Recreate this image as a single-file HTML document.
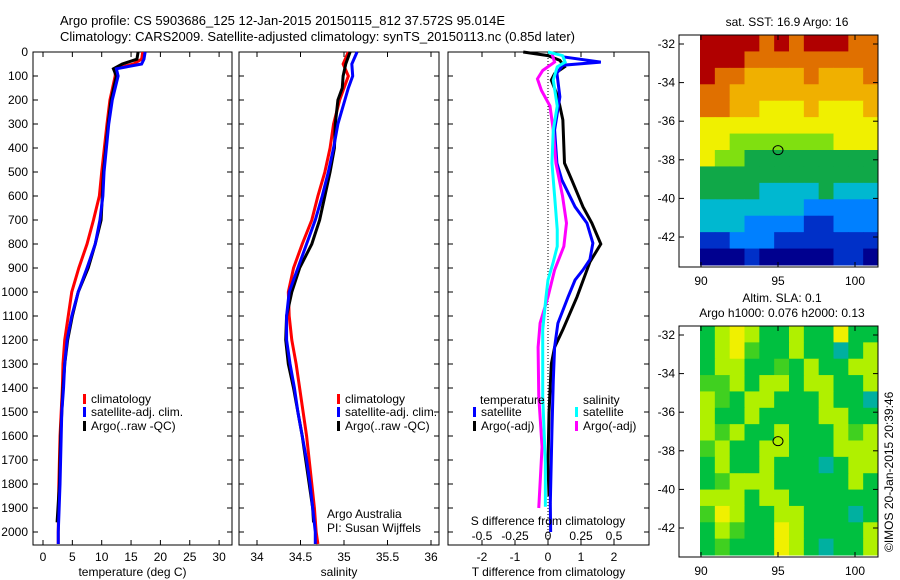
<!DOCTYPE html>
<html><head><meta charset="utf-8"><style>
html,body{margin:0;padding:0;background:#fff;}
svg{display:block;font-family:"Liberation Sans",sans-serif;}
text{font-size:12px;fill:#000;}
</style></head><body>
<svg id="c" width="900" height="580"></svg>
<script>
// ---------- data ----------
const tDepth = [0,30,50,70,100,200,300,500,600,700,800,900,1000,1100,1200,1300,1400,1500,1600,1800,2000,2050];
const tClim  = [17,16.8,15.4,12.3,12.3,11.4,10.9,10,9.6,8.6,7.5,6.1,4.9,4.3,3.7,3.4,3.3,3.1,2.9,2.7,2.6,2.6];
const tSat   = [17.4,17.2,16.8,12.5,12.8,11.8,11.2,10.4,10.2,9.7,8.9,7.5,6.0,4.9,4.1,3.7,3.5,3.2,3.1,2.9,2.6,2.6];
const tArgoDepth = [0,30,50,70,100,200,300,500,600,700,800,900,1000,1100,1200,1300,1400,1500,1600,1800,1960];
const tArgo  = [16.2,16,13.5,12,12.5,11.6,11.1,10.3,10.1,9.9,8.9,7.7,6.0,5.0,4.2,3.7,3.4,3.2,3.0,2.8,2.4];
const sDepth = [0,50,100,150,200,300,400,500,600,700,800,900,1000,1100,1200,1300,1400,1500,1600,1700,1800,1900,2000,2050];
const sClim  = [35.05,34.99,35.05,35.0,34.95,34.88,34.84,34.78,34.7,34.63,34.52,34.42,34.36,34.37,34.4,34.45,34.49,34.53,34.57,34.6,34.63,34.66,34.68,34.7];
const sSat   = [35.15,35.09,35.1,35.05,35.01,34.93,34.88,34.82,34.75,34.67,34.57,34.47,34.37,34.34,34.34,34.38,34.43,34.47,34.52,34.57,34.61,34.64,34.67,34.67];
const sArgoDepth = [0,50,100,150,200,300,400,500,600,700,800,900,1000,1100,1200,1300,1400,1500,1600,1700,1800,1900,1960];
const sArgo  = [35.07,35.02,34.99,34.98,34.93,34.9,34.89,34.84,34.78,34.72,34.63,34.49,34.4,34.34,34.33,34.36,34.42,34.47,34.52,34.56,34.6,34.64,34.65];
const dTSatDepth = [20,42,55,88,187,325,463,533,645,713,796,865,908,950,1020,1130,1230,1370,1575,1880,2000];
const dTSat  = [0.45,1.6,0.45,0.27,0.36,0.2,0.27,0.42,0.82,1.18,1.36,1.27,1.06,0.82,0.61,0.3,0.2,0.16,0.12,0.07,0.08];
const dTArgoDepth = [0,15,35,62,90,117,187,283,463,533,645,713,800,875,1020,1157,1230,1300,1505,1715,1850];
const dTArgo = [-0.75,0,0.36,0.5,0.2,0.1,0.3,0.45,0.5,0.72,1.06,1.33,1.6,1.27,0.88,0.45,0.2,0.1,0.03,0,0.03];
const dSSatDepth = [0,15,42,62,117,225,325,463,600,740,810,875,950,1020,1157,1435,1715,1895];
const dSSat  = [0,0.11,0.13,0.07,0.04,0.07,0.04,0.03,0.05,0.07,0.07,0.04,0,-0.015,-0.04,-0.04,-0.02,-0.02];
const dSArgoDepth = [8,42,77,112,160,225,325,463,600,713,810,908,1020,1130,1230,1435,1645,1900];
const dSArgo = [0.03,0.05,-0.04,-0.08,-0.05,0.015,0.04,0.06,0.11,0.14,0.12,0.05,0,-0.06,-0.075,-0.07,-0.045,-0.07];
const depthTicks = [0,100,200,300,400,500,600,700,800,900,1000,1100,1200,1300,1400,1500,1600,1700,1800,1900,2000];
const tTicks = [0,5,10,15,20,25,30];
const sTicks = [34,34.5,35,35.5,36];
const sTickLabels = ["34","34.5","35","35.5","36"];
const dtTicks = [-2,-1,0,1,2];
const dsTicks = [-0.5,-0.25,0,0.25,0.5];
const dsTickLabels = ["-0.5","-0.25","0","0.25","0.5"];
const latTicks = [-32,-34,-36,-38,-40,-42];
const lonTicks = [90,95,100];
const sstColors = ["#00008f","#0030c8","#0080ff","#00b8d0","#10a848","#80e010","#f0f000","#f0b000","#e07000","#b00000"];
const sst = [
[9,9,9,9,8,9,8,9,9,9,8,8],[9,9,9,8,8,8,8,8,8,8,8,8],[9,8,8,7,7,7,7,8,7,7,7,8],[8,8,7,7,7,7,7,7,7,7,7,7],
[8,8,7,7,6,6,6,7,6,6,6,7],[6,6,6,6,6,6,6,6,6,6,6,6],[6,6,5,5,5,5,5,5,5,6,6,6],[6,5,5,4,4,4,4,4,4,4,4,4],
[4,4,4,4,4,4,4,4,4,4,4,4],[4,4,4,4,3,3,3,3,4,3,3,3],[3,3,3,3,3,3,3,2,2,2,2,2],[3,3,3,2,2,2,2,1,1,2,2,2],
[1,1,2,2,2,1,1,1,1,1,1,1],[0,0,0,1,0,0,0,0,0,1,1,0]];
const slaColors = ["#00b0a0","#00c040","#40d020","#b0f000","#f0f000"];
const sla = [
[1,3,4,3,1,1,3,1,1,4,1,1],[1,3,4,2,1,1,3,1,1,0,1,3],[1,3,3,1,1,2,1,3,1,1,3,3],[2,2,3,1,3,3,1,3,3,1,1,3],
[3,2,1,3,3,1,1,1,3,1,1,0],[3,1,1,3,1,1,1,1,3,3,1,1],[3,2,3,1,1,3,1,1,1,3,2,3],[2,3,1,1,3,3,1,1,1,3,3,3],
[1,3,1,1,3,1,1,1,0,1,3,3],[1,2,3,3,3,1,1,1,1,1,3,1],[3,3,3,1,3,3,1,1,1,1,1,1],[2,4,3,1,1,3,3,1,1,1,0,1],
[1,3,2,1,1,4,3,1,1,1,1,3],[1,2,1,1,1,4,3,1,0,1,1,3]];
const argoLon = 95, argoLat = -37.5;

// ---------- helpers ----------
const svg = document.getElementById('c');
const NS = 'http://www.w3.org/2000/svg';
function mk(tag, attrs, parent){const e=document.createElementNS(NS,tag);for(const k in attrs)e.setAttribute(k,attrs[k]);(parent||svg).appendChild(e);return e;}
function txt(x,y,s,anchor,parent){const t=mk('text',{x:x,y:y,'text-anchor':anchor||'start'},parent);t.textContent=s;return t;}
const Y = d => 52 + d*0.24;
const X1 = t => 43 + t*5.87;
const X2 = s => 257 + (s-34)*87;
const XT = d => 548 + d*33;
const XS = d => 548 + d*132;

function panel(name,x0,x1,xTicks,xScale,labels,depthLabels,xtitle){
  const g=mk('g',{});
  
  
  mk('rect',{x:x0,y:52,width:x1-x0,height:493,fill:'none',stroke:'#000','stroke-width':1},g);
  depthTicks.forEach(d=>{mk('line',{x1:x0,x2:x0+5,y1:Y(d),y2:Y(d),stroke:'#000'},g);mk('line',{x1:x1-5,x2:x1,y1:Y(d),y2:Y(d),stroke:'#000'},g);
    if(depthLabels)txt(28,Y(d)+4,String(d),'end',g);});
  xTicks.forEach((v,i)=>{const x=xScale(v);mk('line',{x1:x,x2:x,y1:545,y2:540,stroke:'#000'},g);mk('line',{x1:x,x2:x,y1:52,y2:57,stroke:'#000'},g);
    if(labels)txt(x,561,labels[i],'middle',g);});
  if(xtitle)txt((x0+x1)/2,576,xtitle,'middle',g);
  return g;
}
function line(name,xs,ds,xScale,color,g){
  const p=mk('polyline',{points:xs.map((v,i)=>xScale(v)+','+Y(ds[i])).join(' '),fill:'none',stroke:color,'stroke-width':3,'stroke-linejoin':'miter'},g);
  
  
}
function legendItem(name,x,y,color,label,g){
  const r=mk('rect',{x:x,y:y-9,width:3,height:10,fill:color},g);
  
  
  const t=txt(x+8,y,label,'start',g);
  
  
}

// titles
const t1=txt(60,25,'Argo profile: CS 5903686_125 12-Jan-2015 20150115_812 37.572S 95.014E');


t1.style.fontSize='13px';
const t2=txt(60,41,'Climatology: CARS2009. Satellite-adjusted climatology: synTS_20150113.nc (0.85d later)');


t2.style.fontSize='13px';

// panel 1 temperature
const g1=panel('temperature-panel',33,232,tTicks,X1,tTicks.map(String),true,'temperature (deg C)');
line('temp-climatology',tClim,tDepth,X1,'#ff0000',g1);
line('temp-argo',tArgo,tArgoDepth,X1,'#000000',g1);
line('temp-satellite-adj',tSat,tDepth,X1,'#0000ff',g1);
legendItem('legend-climatology',83,403,'#ff0000','climatology',g1);
legendItem('legend-satellite-adj',83,416,'#0000ff','satellite-adj. clim.',g1);
legendItem('legend-argo',83,430,'#000000','Argo(..raw -QC)',g1);

// panel 2 salinity
const g2=panel('salinity-panel',239,439,sTicks,X2,sTickLabels,false,'salinity');
line('sal-climatology',sClim,sDepth,X2,'#ff0000',g2);
line('sal-argo',sArgo,sArgoDepth,X2,'#000000',g2);
line('sal-satellite-adj',sSat,sDepth,X2,'#0000ff',g2);
legendItem('legend-sal-climatology',337,403,'#ff0000','climatology',g2);
legendItem('legend-sal-satellite-adj',337,416,'#0000ff','satellite-adj. clim.',g2);
legendItem('legend-sal-argo',337,430,'#000000','Argo(..raw -QC)',g2);
const aa=txt(327,518,'Argo Australia','start',g2);


const pi=txt(327,532,'PI: Susan Wijffels','start',g2);



// panel 3 differences
const g3=panel('difference-panel',448,649,dtTicks,XT,dtTicks.map(String),false,'T difference from climatology');
mk('line',{x1:548,x2:548,y1:52,y2:545,stroke:'#000','stroke-dasharray':'1,2','stroke-width':1},g3);
line('dT-argo',dTArgo,dTArgoDepth,XT,'#000000',g3);
line('dT-satellite',dTSat,dTSatDepth,XT,'#0000ff',g3);
line('dS-argo',dSArgo,dSArgoDepth,XS,'#ff00ff',g3);
line('dS-satellite',dSSat,dSSatDepth,XS,'#00ffff',g3);
txt(480,404,'temperature','start',g3);
legendItem('legend-dT-satellite',473,416,'#0000ff','satellite',g3);
legendItem('legend-dT-argo',473,430,'#000000','Argo(-adj)',g3);
txt(583,404,'salinity','start',g3);
legendItem('legend-dS-satellite',575,416,'#00ffff','satellite',g3);
legendItem('legend-dS-argo',575,430,'#ff00ff','Argo(-adj)',g3);
const st=txt(548,525,'S difference from climatology','middle',g3);


dsTicks.forEach((v,i)=>txt(XS(v),540,dsTickLabels[i],'middle',g3));

// maps
function map(name,top,bottom,grid,colors,titleLines){
  const g=mk('g',{});
  
  
  const L=700,R=878, lonX=lon=>701+(lon-90)*15.4, latY=lat=>top+9+(-32-lat)*19.3;
  const rows=grid.length, cols=grid[0].length, cw=(R-L)/cols, ch=(bottom-2-top)/rows;
  grid.forEach((row,r)=>row.forEach((v,c)=>{
    const cell=mk('rect',{x:L+c*cw,y:top+r*ch,width:cw+0.5,height:ch+0.5,fill:colors[v]},g);
    
    
  }));
  mk('rect',{x:679,y:top,width:199,height:bottom-top,fill:'none',stroke:'#000'},g);
  latTicks.forEach(l=>{const y=latY(l);mk('line',{x1:679,x2:684,y1:y,y2:y,stroke:'#000'},g);mk('line',{x1:873,x2:878,y1:y,y2:y,stroke:'#000'},g);txt(675,y+4,String(l),'end',g);});
  lonTicks.forEach(l=>{const x=lonX(l);mk('line',{x1:x,x2:x,y1:bottom,y2:bottom-5,stroke:'#000'},g);mk('line',{x1:x,x2:x,y1:top,y2:top+5,stroke:'#000'},g);txt(x,bottom+18,String(l),'middle',g);});
  const m=mk('ellipse',{cx:lonX(argoLon),cy:latY(argoLat),rx:5,ry:4.5,fill:'none',stroke:'#000'},g);
  
  
  titleLines.forEach((s,i)=>txt(titleLines.y[i]? 0:0,0,''));
  return g;
}
const m1=map('sst-map',35,267,sst,sstColors,[]);
const m2=map('sla-map',326,557,sla,slaColors,[]);
const mt1=txt(787,26,'sat. SST: 16.9 Argo: 16','middle');


const mt2=txt(782,302,'Altim. SLA: 0.1','middle');


const mt3=txt(782,317,'Argo h1000: 0.076 h2000: 0.13','middle');


const cp=txt(0,0,'©IMOS 20-Jan-2015 20:39:46','start');
cp.setAttribute('transform','translate(893,552) rotate(-90)');


</script>
</body></html>
